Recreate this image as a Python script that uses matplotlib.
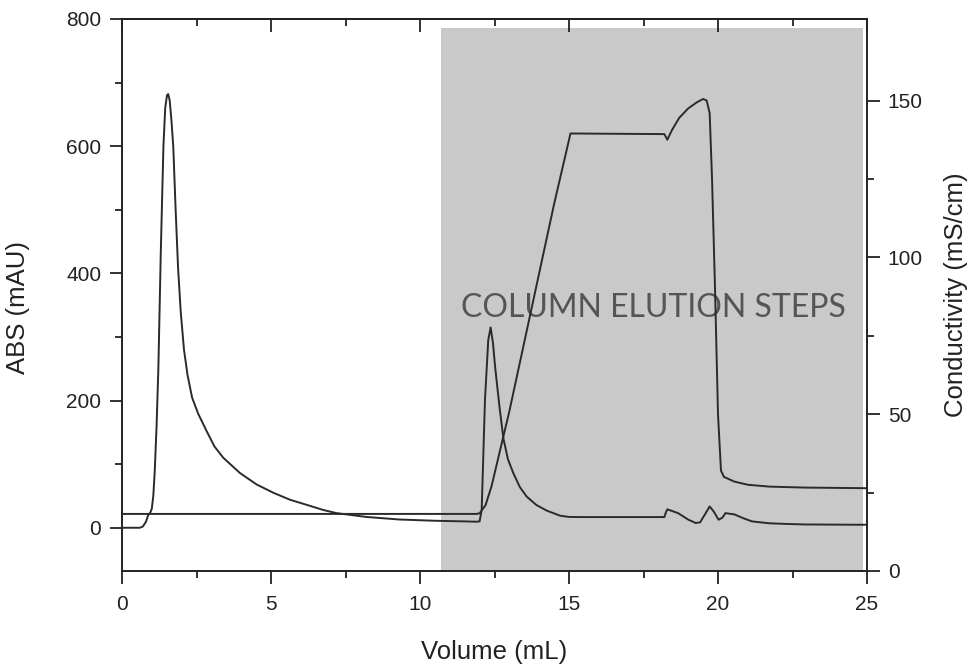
import matplotlib
matplotlib.use("Agg")
import matplotlib.pyplot as plt
from matplotlib.ticker import MultipleLocator, FixedLocator

plt.rcParams['font.family'] = ['Liberation Sans', 'DejaVu Sans']

# ---- data ----
abs_x = [0, 0.6, 0.7, 0.8, 0.88, 0.95, 1.0, 1.05, 1.1, 1.16, 1.22, 1.30, 1.39, 1.45,
         1.51, 1.55, 1.6, 1.66, 1.72, 1.80, 1.88, 1.97, 2.08, 2.2, 2.35, 2.55, 2.84,
         3.1, 3.4, 3.96, 4.52, 5.08, 5.64, 6.2, 6.75, 7.2, 8.2, 9.3, 10.5, 11.5,
         11.9, 12.0, 12.07, 12.18, 12.29, 12.37, 12.45, 12.52, 12.68, 12.8, 12.95,
         13.13, 13.35, 13.58, 13.9, 14.25, 14.7, 15.0, 15.5, 16.5, 17.5, 18.2,
         18.25, 18.3, 18.66, 19.01, 19.25, 19.4, 19.6, 19.72, 19.85, 20.02, 20.15,
         20.25, 20.55, 20.85, 21.14, 21.73, 22.3, 22.9, 24.0, 25.0]
abs_y = [0, 0, 2, 9, 20, 24, 30, 50, 90, 160, 250, 430, 600, 660,
         680, 682, 672, 640, 600, 500, 410, 340, 280, 240, 205, 180, 152,
         128, 110, 86, 68, 55, 44, 36, 28, 23, 17, 13, 11, 10,
         9.5, 10, 28, 201, 295, 315, 290, 253, 185, 140, 108,
         86, 64, 49, 36, 27, 19, 17, 16.8, 16.8, 16.8, 16.8,
         24, 29, 23, 12.6, 7.5, 8.5, 24, 33.5, 26, 12.6, 16,
         23, 21, 15, 10, 7, 6, 5.2, 4.9, 4.7]

cond_x = [0, 11.9, 12.0, 12.2, 12.4, 12.6, 12.8, 13.0, 13.5, 14.0, 14.5, 15.05,
          18.2, 18.3, 18.45, 18.7, 19.0, 19.3, 19.5, 19.62, 19.72, 19.8, 19.9,
          20.0, 20.1, 20.2, 20.55, 21.0, 21.73, 22.9, 25.0]
cond_y = [18.2, 18.2, 18.4, 21, 27, 35, 43, 51, 73, 95, 117, 139.5,
          139.3, 137.5, 140.5, 144.5, 147.5, 149.5, 150.5, 150, 146, 125, 90,
          50, 32, 30, 28.5, 27.5, 26.9, 26.6, 26.4]

x_ticks = [0, 5, 10, 15, 20, 25]
abs_ticks = [0, 200, 400, 600, 800]
cond_ticks = [0, 50, 100, 150]
shade_range = (10.7, 24.85)
shade_top = 786
annotation = "COLUMN ELUTION STEPS"

# ---- figure ----
fig = plt.figure(figsize=(9.71, 6.65), dpi=100)
ax = fig.add_axes([122/971, 1 - 571/665, (867-122)/971, (571-19)/665])

line_col = '#2a2a2a'
tick_col = '#222222'

ax.fill_between([shade_range[0], shade_range[1]], [-68, -68], [shade_top, shade_top],
                color='#c9c9c9', lw=0, zorder=0)
ax.plot(abs_x, abs_y, color=line_col, lw=1.4, zorder=3)

ax.text(11.38, 332, annotation, family=['Lato', 'DejaVu Sans'],
        fontsize=23, color='#555555', ha='left', va='baseline', zorder=2)

ax.set_xlim(0, 25)
ax.set_ylim(-68, 800)
ax.set_xticks(x_ticks)
ax.set_yticks(abs_ticks)
ax.xaxis.set_minor_locator(MultipleLocator(2.5))
ax.yaxis.set_minor_locator(FixedLocator([100, 300, 500, 700]))
ax.tick_params(axis='both', which='major', direction='out', length=9, width=1.3,
               labelsize=15, colors=tick_col, pad=6)
ax.tick_params(axis='x', which='major', pad=8)
ax.tick_params(axis='both', which='minor', direction='out', length=5, width=1.3,
               colors=tick_col)
ax.spines['right'].set_visible(False)
for s in ['left', 'bottom', 'top']:
    ax.spines[s].set_linewidth(1.4)
    ax.spines[s].set_color(tick_col)

top = ax.secondary_xaxis('top')
top.set_xticks(x_ticks)
top.xaxis.set_minor_locator(MultipleLocator(2.5))
top.tick_params(which='major', direction='in', length=9, width=1.3, labeltop=False,
                colors=tick_col)
top.tick_params(which='minor', direction='in', length=5, width=1.3, colors=tick_col)
top.spines['top'].set_linewidth(1.4)

ax.set_xlabel('Volume (mL)', fontsize=18.5, color=tick_col)
ax.xaxis.set_label_coords(0.5, -0.125)
ax.set_ylabel('ABS (mAU)', fontsize=18.5, color=tick_col)
ax.yaxis.set_label_coords(-0.123, 0.478)

ax2 = ax.twinx()
ax2.plot(cond_x, cond_y, color=line_col, lw=1.4, zorder=3)
ax2.set_ylim(0, 176)
ax2.set_yticks(cond_ticks)
ax2.yaxis.set_minor_locator(FixedLocator([25, 75, 125]))
ax2.tick_params(axis='y', which='major', direction='out', length=9, width=1.3,
                labelsize=15, colors=tick_col, pad=6)
ax2.tick_params(axis='y', which='minor', direction='out', length=5, width=1.3,
                colors=tick_col)
for s in ['left', 'bottom', 'top']:
    ax2.spines[s].set_visible(False)
ax2.spines['right'].set_linewidth(1.4)
ax2.spines['right'].set_color(tick_col)
ax2.set_ylabel('Conductivity (mS/cm)', fontsize=18.5, color=tick_col)
ax2.yaxis.set_label_coords(1.104, 0.5)

fig.savefig('out.png', dpi=100, facecolor='white')
